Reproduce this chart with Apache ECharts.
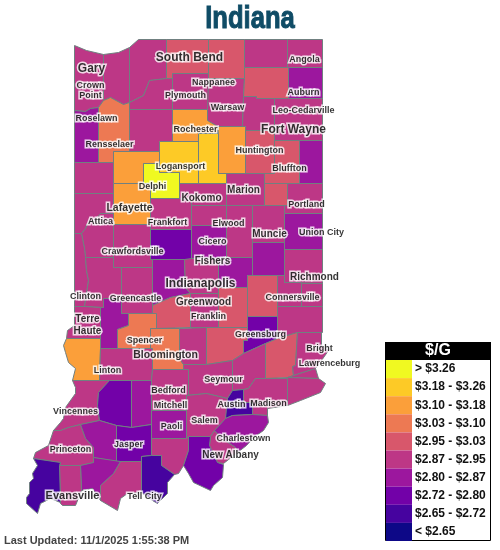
<!DOCTYPE html>
<html><head><meta charset="utf-8">
<style>html,body{margin:0;padding:0;background:#fff}#c{width:500px;height:550px}</style>
<script src="https://cdn.jsdelivr.net/npm/echarts@6/dist/echarts.min.js"></script>
</head><body><div id="c"></div>
<script>
// ---- values ($/gallon, estimated from the colour bands)
const countyNames = ["Lake","Porter","LaPorte","St. Joseph","Elkhart","LaGrange","Steuben","Newton","Jasper","Starke","Marshall","Kosciusko","Noble","DeKalb","Pulaski","Fulton","Whitley","Allen","Benton","White","Cass","Miami","Wabash","Huntington","Wells","Adams","Carroll","Howard","Grant","Blackford","Jay","Warren","Tippecanoe","Clinton","Tipton","Madison","Delaware","Randolph","Fountain","Montgomery","Boone","Hamilton","Henry","Wayne","Vermillion","Parke","Putnam","Hendricks","Marion","Hancock","Rush","Fayette","Union","Vigo","Clay","Owen","Morgan","Johnson","Shelby","Decatur","Franklin","Sullivan","Greene","Monroe","Brown","Bartholomew","Ripley","Dearborn","Ohio","Switzerland","Knox","Daviess","Martin","Lawrence","Jackson","Jennings","Jefferson","Scott","Gibson","Pike","Dubois","Orange","Washington","Clark","Floyd","Crawford","Harrison","Perry","Spencer","Warrick","Vanderburgh","Posey"];
const countyPrices = [2.91,2.90,2.92,2.99,2.98,2.91,2.90,2.83,3.06,2.91,2.91,2.92,3.00,2.84,2.91,3.14,2.91,2.90,2.92,3.15,3.21,3.22,3.12,2.99,2.98,2.83,3.28,2.91,2.92,2.99,2.90,2.91,3.13,2.91,2.92,2.91,2.90,2.83,2.91,2.92,2.76,2.84,2.83,2.91,2.90,2.91,2.92,2.83,2.91,2.84,2.99,2.91,2.90,2.91,2.83,3.06,2.98,2.91,3.00,2.76,2.92,3.13,2.91,3.05,2.90,2.99,2.98,2.91,2.90,2.91,2.92,2.76,2.83,2.91,2.90,2.91,2.92,2.68,2.91,2.83,2.75,2.84,2.91,2.83,2.90,2.92,2.77,2.68,2.91,2.83,2.90,2.67];

const legendTitle = "$/G";
const bandLabels = ["> $3.26","$3.18 - $3.26","$3.10 - $3.18","$3.03 - $3.10","$2.95 - $3.03","$2.87 - $2.95","$2.80 - $2.87","$2.72 - $2.80","$2.65 - $2.72","< $2.65"];
const bandLimits = [3.26,3.18,3.10,3.03,2.95,2.87,2.80,2.72,2.65];
const bandColors = ["#f0f921","#fdca26","#fb9f3a","#ed7953","#d8576b","#bd3786","#9c179e","#7201a8","#46039f","#0d0887"];

const chartTitle = "Indiana";
const updatedText = "Last Updated: 11/1/2025 1:55:38 PM";

const cityNames = ["Gary","Crown\nPoint","Roselawn","Rensselaer","South Bend","Angola","Nappanee","Plymouth","Auburn","Warsaw","Leo-Cedarville","Rochester","Fort Wayne","Huntington","Bluffton","Logansport","Delphi","Marion","Kokomo","Lafayette","Portland","Attica","Frankfort","Elwood","Union City","Muncie","Cicero","Crawfordsville","Fishers","Richmond","Indianapolis","Clinton","Greencastle","Connersville","Greenwood","Franklin","Terre\nHaute","Spencer","Greensburg","Bright","Bloomington","Lawrenceburg","Linton","Seymour","Bedford","Madison","Vincennes","Mitchell","Austin","Salem","Paoli","Charlestown","Jasper","Princeton","New Albany","Evansville","Tell City"];
const cityX = [91,90,96,109,189,304,213,185,303,227,303,195,293,259,289,180,152,243,201,129,306,100,167,228,321,269,212,132,212,314,200,85,135,292,203,208,87,144,260,319,165,329,107,223,168,268,75,170,231,204,171,243,128,70,230,72,144];
const cityY = [68,90,118,144,57,59,82,95,92,107,110,129,129,150,168,166,186,190,198,208,204,221,222,223,232,234,241,251,261,277,283,296,298,297,302,316,325,340,334,348,355,363,370,379,390,403,411,405,404,420,426,438,444,449,455,495,496];
const citySizes = [12,9,9,9,12,9,9,9,9,9,9,9,12,9,9,9,9,10,10,10.5,9,9,9,9,9,10,9,9,10,10,12,9,9,9,10,9,10,9,9,9,10.5,9,9,9,9,9,9,9,9,9,9,9,9,9,10,11,9];

// ---- county outlines
const countyOutlines = {
"Lake":[74,45,86,50,103,54,103,100,98,107,90,108,85,111,74,110],
"Porter":[103,54,118,52,129,47,129,102,123,104,110,97,103,100],
"LaPorte":[129,47,138,39,166,39,166,78,149,80,143,95,129,102],
"St. Joseph":[166,39,208,39,208,73,172,73,172,78,166,78],
"Elkhart":[208,39,244,39,244,78,208,78],
"LaGrange":[244,39,287,39,287,67,244,67],
"Steuben":[287,39,322,39,322,67,287,67],
"Newton":[74,110,85,111,90,108,98,107,98,162,74,162],
"Jasper":[98,107,103,100,110,97,123,104,129,102,129,151,113,151,113,162,98,162],
"Starke":[129,102,143,95,149,80,166,78,172,78,172,109,129,109],
"Marshall":[172,73,208,73,208,109,172,109],
"Kosciusko":[208,78,244,78,243,96,242,126,217,126,207,120,207,109,208,109],
"Noble":[244,67,288,67,288,98,256,98,256,96,243,96,244,78],
"DeKalb":[288,67,322,67,322,98,288,98],
"Pulaski":[129,109,172,109,172,141,159,141,159,151,129,151],
"Fulton":[172,109,207,109,207,120,217,126,217,133,198,133,198,141,172,141],
"Whitley":[243,96,256,96,256,98,274,98,274,130,245,130,245,126,242,126],
"Allen":[274,98,322,98,322,140,274,140],
"Benton":[74,162,113,162,113,193,74,193],
"White":[113,151,159,151,159,163,143,163,143,183,113,183],
"Cass":[159,141,198,141,198,183,179,183,179,172,159,172],
"Miami":[198,133,218,133,218,173,226,173,226,183,198,183],
"Wabash":[217,126,245,126,245,173,218,173,218,133,217,133],
"Huntington":[245,130,274,130,274,173,245,173],
"Wells":[274,140,299,140,299,183,264,183,264,173,274,173],
"Adams":[299,140,322,140,322,183,299,183],
"Carroll":[143,163,159,163,159,172,179,172,179,198,150,198,150,183,143,183],
"Howard":[179,183,226,183,226,205,191,205,191,200,179,198],
"Grant":[226,173,264,173,264,205,226,205],
"Blackford":[264,183,287,183,287,205,264,205],
"Jay":[287,183,322,183,322,213,284,213,284,205,287,205],
"Warren":[74,193,113,193,113,213,100,213,95,219,87,223,85,228,81,233,74,233],
"Tippecanoe":[113,183,150,183,150,224,113,224],
"Clinton":[150,198,179,198,191,200,191,229,150,229],
"Tipton":[191,205,226,205,226,225,191,225],
"Madison":[226,205,252,205,252,257,226,257],
"Delaware":[252,205,284,205,284,242,252,242],
"Randolph":[284,213,322,213,322,249,284,249],
"Fountain":[100,213,113,213,113,257,85,257,84,248,81,233,85,228,87,223,95,219],
"Montgomery":[113,224,150,224,150,259,152,259,152,267,113,267],
"Boone":[150,229,191,229,191,259,150,259],
"Hamilton":[191,225,226,225,226,258,191,258],
"Henry":[252,242,284,242,284,275,252,275],
"Wayne":[284,249,322,249,322,283,284,282],
"Vermillion":[74,233,81,233,84,248,85,257,86,270,88,280,84,306,74,306],
"Parke":[85,257,113,257,113,267,121,267,121,298,103,298,103,307,84,306,88,280,86,270],
"Putnam":[121,267,152,267,152,313,121,313],
"Hendricks":[152,259,184,259,185,287,190,293,170,297,152,305],
"Marion":[184,259,191,258,218,258,218,293,190,293,185,287],
"Hancock":[218,257,252,257,252,275,247,275,247,287,218,287],
"Rush":[247,275,277,275,277,316,247,316],
"Fayette":[277,275,284,275,284,282,301,282,301,306,277,306],
"Union":[301,283,322,283,322,306,301,306],
"Vigo":[74,306,84,306,100,307,100,338,66,338,67,330,74,325],
"Clay":[100,307,103,307,103,298,121,298,121,313,128,313,128,325,117,329,117,348,100,348],
"Owen":[128,313,156,313,156,328,150,328,150,348,117,348,117,329,128,325],
"Morgan":[152,305,170,297,190,293,190,327,156,328,156,313,152,313],
"Johnson":[190,293,218,293,218,327,190,327],
"Shelby":[218,287,247,287,247,327,218,327],
"Decatur":[247,316,277,316,277,338,265,343,243,353,243,340,247,340],
"Franklin":[277,306,322,306,322,332,297,332,277,338],
"Sullivan":[66,338,100,338,100,348,99,380,72,380,75,368,68,362,65,352,63,345],
"Greene":[100,348,152,348,152,369,151,380,99,380],
"Monroe":[150,328,179,328,179,358,183,364,183,369,152,369,152,348,150,348],
"Brown":[179,328,206,327,206,364,183,364,179,358],
"Bartholomew":[206,327,247,327,247,340,243,340,243,353,232,360,206,364],
"Ripley":[265,343,277,338,297,332,295,365,292,366,293,375,287,377,265,378],
"Dearborn":[297,332,321,332,321,345,328,350,321,360,315,368,293,375,292,366,295,365],
"Ohio":[293,375,315,368,318,378,287,377],
"Switzerland":[287,377,318,378,325,383,320,392,300,400,287,405],
"Knox":[72,380,109,380,98,392,97,405,99,420,80,424,68,427,60,430,53,430,60,422,63,418,65,407,75,393,75,387],
"Daviess":[109,380,131,380,131,427,116,425,99,420,97,405,98,392],
"Martin":[131,380,151,380,151,424,131,427],
"Lawrence":[151,380,152,369,188,369,188,395,186,395,186,410,151,410],
"Jackson":[183,364,206,364,232,360,232,390,227,398,206,393,186,395,188,395,188,369,183,369],
"Jennings":[232,360,243,353,265,343,265,378,255,378,248,388,243,389,232,390],
"Jefferson":[255,378,287,378,287,405,267,408,267,415,252,414,252,402,243,402,243,389,248,388],
"Scott":[232,390,243,389,243,402,252,402,252,414,232,415,225,418,225,407,227,398],
"Gibson":[33,458,35,452,48,445,53,430,60,430,68,427,80,424,85,438,93,447,93,462,80,465,59,465,60,462],
"Pike":[80,424,99,420,116,425,116,461,93,457,93,447,85,438],
"Dubois":[116,425,131,427,151,424,151,455,141,456,141,461,116,461],
"Orange":[151,410,186,410,186,438,151,438],
"Washington":[186,395,206,393,227,398,225,418,214,430,210,436,188,436,186,438],
"Clark":[225,418,232,415,252,414,267,415,268,422,263,430,253,437,246,445,237,452,235,447,220,437,214,430],
"Floyd":[214,430,220,437,235,447,237,452,223,463,217,462,209,445,210,436],
"Crawford":[151,438,186,438,188,436,188,450,183,465,178,473,174,474,161,465,161,455,151,455],
"Harrison":[188,436,210,436,209,445,217,462,223,464,222,477,213,485,210,490,193,482,188,473,183,465,188,450],
"Perry":[141,456,151,455,161,455,161,465,174,474,167,482,167,493,157,503,152,500,141,492],
"Spencer":[120,461,141,461,141,492,127,493,120,498,117,510,100,500,100,485,113,473],
"Warrick":[80,465,93,462,93,457,120,461,113,473,100,485,100,500,92,488,81,490],
"Vanderburgh":[59,465,80,465,81,490,75,505,62,505,60,503],
"Posey":[33,458,60,462,59,465,60,502,50,498,40,503,37,513,26,503,26,497,29,493,29,482,33,478,32,473,37,465]
};

const features = countyNames.map(function (name) {
  const flat = countyOutlines[name], ring = [];
  for (let i = 0; i < flat.length; i += 2) ring.push([flat[i], -flat[i + 1]]);
  ring.push(ring[0].slice());
  return { type: "Feature", properties: { name: name }, geometry: { type: "Polygon", coordinates: [ring] } };
});
echarts.registerMap("indiana", { type: "FeatureCollection", features: features });

let x0 = 1e9, x1 = -1e9, y0 = 1e9, y1 = -1e9;
features.forEach(function (f) {
  f.geometry.coordinates[0].forEach(function (p) {
    x0 = Math.min(x0, p[0]); x1 = Math.max(x1, p[0]);
    y0 = Math.min(y0, -p[1]); y1 = Math.max(y1, -p[1]);
  });
});

const pieces = bandLabels.map(function (lab, i) {
  const p = { label: lab, color: bandColors[i] };
  if (i === 0) p.gt = bandLimits[0];
  else if (i === bandLabels.length - 1) p.lte = bandLimits[i - 1];
  else { p.gt = bandLimits[i]; p.lte = bandLimits[i - 1]; }
  return p;
});

const chart = echarts.init(document.getElementById("c"), null, { renderer: "canvas" });
chart.setOption({
  animation: false,
  backgroundColor: "#fff",
  geo: {
    map: "indiana", roam: false, aspectScale: 1, silent: true,
    left: x0 + 0.5, top: y0 + 0.5, width: x1 - x0, height: y1 - y0,
    itemStyle: { areaColor: "#bd3786", borderColor: "#708080", borderWidth: 1 },
    label: { show: false }, emphasis: { disabled: true }, select: { disabled: true }
  },
  visualMap: {
    type: "piecewise", seriesIndex: 0, orient: "vertical", left: 386, top: 360,
    pieces: pieces, itemWidth: 26, itemHeight: 18.1, itemGap: 0, itemSymbol: "rect",
    textGap: 3, padding: 0, hoverLink: false, selectedMode: false, align: "left",
    textStyle: { fontFamily: "Liberation Sans", fontWeight: "bold", fontSize: 12, color: "#111" }
  },
  series: [
    { type: "map", geoIndex: 0, map: "indiana", silent: true,
      data: countyNames.map(function (n, i) { return { name: n, value: countyPrices[i] }; }) },
    { type: "scatter", coordinateSystem: "geo", symbolSize: 0, silent: true, z: 5,
      data: cityNames.map(function (n, i) {
        return { name: n, value: [cityX[i], -cityY[i]],
          label: { fontSize: citySizes[i], lineHeight: Math.round(citySizes[i] * 1.15) } };
      }),
      label: { show: true, position: "inside", align: "center", verticalAlign: "middle",
        formatter: function (p) { return p.name; },
        fontFamily: "Liberation Sans", fontWeight: "bold", color: "#000",
        textBorderColor: "#fff", textBorderWidth: 3 } }
  ],
  graphic: [
    { type: "rect", z: 1, shape: { x: 385.5, y: 342.5, width: 105, height: 198 }, style: { fill: "#fff", stroke: "#000", lineWidth: 1 } },
    { type: "rect", z: 2, shape: { x: 385, y: 342, width: 106, height: 18 }, style: { fill: "#000" } },
    { type: "text", z: 3, x: 438, y: 351, style: { text: legendTitle, fill: "#fff", font: "bold 16px 'Liberation Sans'", align: "center", verticalAlign: "middle" } },
    { type: "text", z: 3, x: 250, y: 19, scaleX: 0.8, originX: 0, originY: 0, style: { text: chartTitle, fill: "#0f4c66", stroke: "#0f4c66", lineWidth: 1, font: "bold 32px 'Liberation Sans Narrow','Liberation Sans'", align: "center", verticalAlign: "middle" } },
    { type: "text", z: 3, x: 4, y: 541, style: { text: updatedText, fill: "#444", font: "bold 11px 'Liberation Sans'", align: "left", verticalAlign: "middle" } }
  ]
});
</script></body></html>
